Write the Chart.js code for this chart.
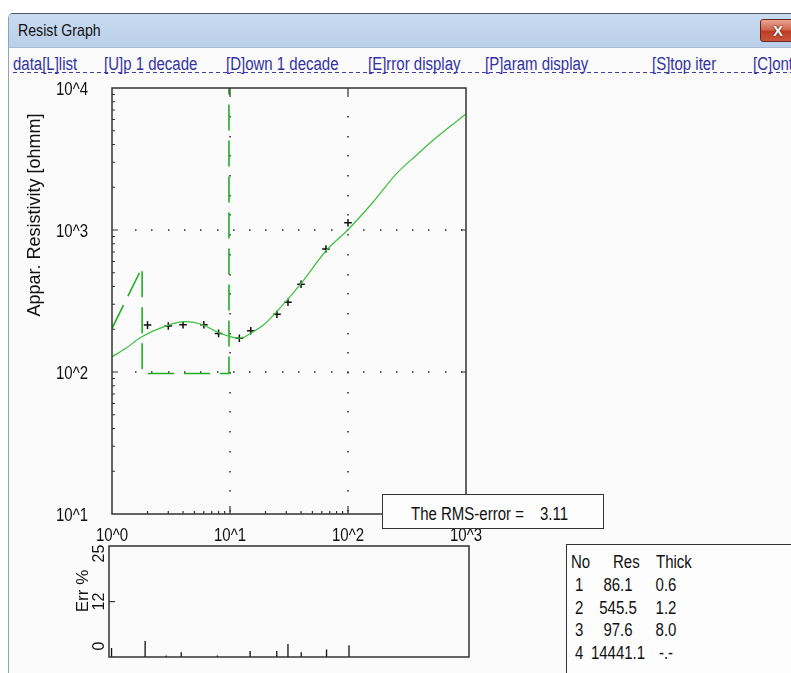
<!DOCTYPE html>
<html>
<head>
<meta charset="utf-8">
<title>Resist Graph</title>
<script src="https://cdn.jsdelivr.net/npm/chart.js@4.4.1/dist/chart.umd.min.js"></script>
<style>
  html, body { margin: 0; padding: 0; }
  body {
    width: 791px; height: 673px; position: relative; overflow: hidden; background: #ffffff;
    font-family: "Liberation Sans", Arial, sans-serif;
  }
  .win { position: absolute; left: 8px; top: 13px; width: 800px; height: 680px; background: #fbfbfb;
         border-left: 1px solid #8fa2b8; border-top: 1px solid #4f5a66; border-top-left-radius: 5px; }
  .titlebar { position: absolute; left: 9px; top: 14px; width: 790px; height: 33px;
              background: linear-gradient(#c9dbf0, #b9cfe9); border-bottom: 1px solid #a6bad2;
              border-top-left-radius: 4px; }
  .close { position: absolute; left: 760px; top: 19px; width: 40px; height: 23px; box-sizing: border-box;
           border: 1px solid #6a261b; border-radius: 3px;
           background: linear-gradient(#e7a592, #d0634b 48%, #bd3c24 52%, #c9563b); }
  .close span { position: absolute; left: 12px; top: 2px; font: bold 15px "Liberation Sans", Arial, sans-serif;
                color: #ffffff; text-shadow: 0 0 2px #5a1a10, 0 0 1px #5a1a10; }
  /* condensed caption text */
  .t { position: absolute; font-size: 18px; line-height: 18px; white-space: pre;
       transform: scaleX(0.833); transform-origin: 0 0; }
  .t.c { width: 80px; text-align: center; transform-origin: 40px 0; }
  .menu .t { top: 55px; color: #3232a2; }
  .menuline { position: absolute; left: 13px; top: 72px; width: 778px; height: 1px;
              background: repeating-linear-gradient(90deg, #3a3aa8 0 4px, transparent 4px 7px); }
  canvas { position: absolute; left: 0; top: 0; z-index: 1; }
  .box { position: absolute; z-index: 2; background: #fdfdfd; border: 1.5px solid #333; box-sizing: border-box; }
  .box .t { color: #111; }
</style>
</head>
<body>
<div class="win"></div>
<div class="titlebar"><span class="t" style="left:9px; top:8px; font-size:17px; color:#101010;">Resist Graph</span></div>
<div class="close"><span>X</span></div>
<div class="menu" id="menu"></div>
<div class="menuline"></div>

<canvas id="main" width="791" height="673"></canvas>
<canvas id="err" width="791" height="673"></canvas>

<div class="box" id="rms" style="left:382px; top:494px; width:222px; height:35px;"></div>
<div class="box" id="layers" style="left:566px; top:544px; width:240px; height:140px;"></div>

<script>
// ---- menu ----
const menuItems = ['data[L]list', '[U]p 1 decade', '[D]own 1 decade', '[E]rror display',
                   '[P]aram display', '[S]top iter', '[C]ont'];
const menuX = [13, 104, 226, 368, 485, 652, 753];

// ---- sounding data: AB/2 [m] vs apparent resistivity [ohmm] ----
const spacingObs = [2, 3, 4, 6, 8, 12, 15, 25, 31, 40, 65, 100];
const rhoObs     = [214, 211, 215, 215, 187, 173, 195, 255, 310, 415, 735, 1125];

// fitted model response
const spacingModel = [1.0, 1.33, 1.73, 2.91, 4.15, 5.94, 7.71, 9.68, 12.2, 15.7, 19.2, 24.9,
                      39.2, 65.9, 99.4, 164, 259, 382, 528, 994];
const rhoModel     = [128, 148, 174, 212, 226, 214, 192, 179, 173, 192, 214, 266,
                      410, 723, 1000, 1581, 2507, 3373, 4305, 6531];

// layered earth parameters
const layerNo    = [1, 2, 3, 4];
const layerRes   = [86.1, 545.5, 97.6, 14441.1];
const layerThick = [0.6, 1.2, 8.0, null];

// relative misfit per station [%]
const errSpacing = [1.05, 2, 3, 4, 8, 15, 25, 31, 40, 65, 100];
const errPct     = [2.4, 4.3, 0.4, 1.3, 0.4, 1.6, 1.6, 3.5, 1.3, 2.0, 3.2];

const rmsError = 3.11;

// axis ticks
const xTickValues = [1, 10, 100, 1000];
const xTickLabels = ['10^0', '10^1', '10^2', '10^3'];
const yTickValues = [10, 100, 1000, 10000];
const yTickLabels = ['10^1', '10^2', '10^3', '10^4'];
const errTickValues = [0, 12, 25];
const errTickLabels = ['0', '12', '25'];

const REGULAR = '"Liberation Sans", Arial, sans-serif';
const SQUEEZE = 0.833;

function addText(parent, text, x, y, cls, extra) {
  const s = document.createElement('span');
  s.className = 't' + (cls ? ' ' + cls : '');
  s.textContent = text;
  if (cls === 'c') s.style.left = (x - 40) + 'px'; else s.style.left = x + 'px';
  if (y !== null) s.style.top = y + 'px';
  if (extra) Object.assign(s.style, extra);
  parent.appendChild(s);
}

// ---- menu bar ----
const menu = document.getElementById('menu');
menuItems.forEach((t, i) => addText(menu, t, menuX[i], null));

// ---- RMS box ----
const rms = document.getElementById('rms');
addText(rms, 'The RMS-error =', 28, 10);
addText(rms, rmsError.toFixed(2), 157, 10);

// ---- layer table ----
const tbl = document.getElementById('layers');
addText(tbl, 'No', 4, 8);
addText(tbl, 'Res', 46, 8);
addText(tbl, 'Thick', 89, 8);
layerNo.forEach((n, i) => {
  const y = 31 + i * 22.5;
  addText(tbl, String(n), 8, y);
  addText(tbl, layerRes[i].toFixed(1), 51, y, 'c');
  addText(tbl, layerThick[i] === null ? '-.-' : layerThick[i].toFixed(1), 99, y, 'c');
});

// ---- layered model step line ----
const depths = [];
layerThick.reduce((acc, t) => { if (t !== null) { acc += t; depths.push(acc); } return acc; }, 0);
const layerLine = [
  { x: depths[0], y: layerRes[0] },
  { x: depths[1], y: layerRes[1] },
  { x: depths[1], y: layerRes[2] },
  { x: depths[2], y: layerRes[2] },
  { x: depths[2], y: layerRes[3] }
];

// condensed canvas text
function squeezedText(ctx, text, x, y, align) {
  ctx.save();
  ctx.translate(x, y);
  ctx.scale(SQUEEZE, 1);
  ctx.textAlign = align;
  ctx.textBaseline = 'middle';
  ctx.fillText(text, 0, 0);
  ctx.restore();
}

// frame, dotted grid, tick marks, tick labels and axis title for the sounding plot
const soundingFrame = {
  id: 'soundingFrame',
  beforeDatasetsDraw(chart) {
    const { ctx, chartArea: a, scales: { x, y } } = chart;
    ctx.save();
    ctx.fillStyle = '#2a2a2a';
    [10, 100].forEach(v => {
      const px = Math.round(x.getPixelForValue(v));
      for (let py = a.top + 28; py < a.bottom - 4; py += 19.7) ctx.fillRect(px - 0.7, Math.round(py), 1.5, 1.5);
    });
    [100, 1000].forEach(v => {
      const py = Math.round(y.getPixelForValue(v));
      for (let px = a.left + 23; px < a.right - 4; px += 16.3) ctx.fillRect(Math.round(px), py - 0.7, 1.5, 1.5);
    });
    ctx.restore();
  },
  afterDatasetsDraw(chart) {
    const { ctx, chartArea: a, scales: { x, y } } = chart;
    ctx.save();
    ctx.strokeStyle = '#333';
    ctx.lineWidth = 1.5;
    ctx.strokeRect(a.left, a.top, a.right - a.left, a.bottom - a.top);
    ctx.lineWidth = 1.2;
    ctx.beginPath();
    [10, 100].forEach(v => {
      const px = x.getPixelForValue(v);
      ctx.moveTo(px, a.bottom); ctx.lineTo(px, a.bottom - 8);
      ctx.moveTo(px, a.top); ctx.lineTo(px, a.top + 9);
    });
    [100, 1000].forEach(v => {
      const py = y.getPixelForValue(v);
      ctx.moveTo(a.left, py); ctx.lineTo(a.left + 6, py);
      ctx.moveTo(a.right, py); ctx.lineTo(a.right - 5, py);
    });
    for (let d = 0; d < 3; d++) for (let k = 2; k <= 9; k++) {
      const px = x.getPixelForValue(k * Math.pow(10, d));
      ctx.moveTo(px, a.bottom); ctx.lineTo(px, a.bottom - 3);
    }
    for (let d = 1; d < 4; d++) for (let k = 2; k <= 9; k++) {
      const py = y.getPixelForValue(k * Math.pow(10, d));
      ctx.moveTo(a.left, py); ctx.lineTo(a.left + 3, py);
    }
    ctx.stroke();

    ctx.fillStyle = '#111';
    ctx.font = '18px ' + REGULAR;
    xTickValues.forEach((v, i) => squeezedText(ctx, xTickLabels[i], x.getPixelForValue(v), a.bottom + 22, 'center'));
    yTickValues.forEach((v, i) => squeezedText(ctx, yTickLabels[i], a.left - 24, y.getPixelForValue(v) + 2, 'right'));

    ctx.translate(a.left - 77, a.top + 127);
    ctx.rotate(-Math.PI / 2);
    ctx.font = '18px ' + REGULAR;
    ctx.textAlign = 'center';
    ctx.textBaseline = 'middle';
    ctx.fillText('Appar. Resistivity [ohmm]', 0, 0);
    ctx.restore();
  }
};

new Chart(document.getElementById('main'), {
  type: 'line',
  data: {
    datasets: [
      { data: spacingModel.map((s, i) => ({ x: s, y: rhoModel[i] })),
        borderColor: '#3cbf3c', borderWidth: 1.2, pointRadius: 0, cubicInterpolationMode: 'monotone' },
      { data: layerLine, borderColor: '#1fae1f', borderWidth: 1.6, borderDash: [26, 10], borderDashOffset: 13,
        pointRadius: 0, tension: 0 },
      { data: spacingObs.map((s, i) => ({ x: s, y: rhoObs[i] })), showLine: false,
        pointStyle: 'cross', pointRadius: 3.8, borderColor: '#111', borderWidth: 1.5 }
    ]
  },
  options: {
    responsive: false, animation: false, events: [],
    layout: { padding: { left: 0, top: 88, right: 325, bottom: 123 } },
    plugins: { legend: { display: false }, tooltip: { enabled: false } },
    scales: {
      x: {
        type: 'logarithmic', min: 1, max: 1000,
        afterFit: s => { s.height = 36; },
        ticks: { display: false },
        grid: { display: false, drawTicks: false }, border: { display: false }
      },
      y: {
        type: 'logarithmic', min: 10, max: 10000,
        afterFit: s => { s.width = 112; },
        ticks: { display: false },
        grid: { display: false, drawTicks: false }, border: { display: false }
      }
    }
  },
  plugins: [soundingFrame]
});

// frame and rotated labels for the misfit plot
const misfitFrame = {
  id: 'misfitFrame',
  afterDatasetsDraw(chart) {
    const { ctx, chartArea: a, scales: { y } } = chart;
    ctx.save();
    ctx.strokeStyle = '#333';
    ctx.lineWidth = 1.5;
    ctx.strokeRect(a.left, a.top, a.right - a.left, a.bottom - a.top);
    const p12 = y.getPixelForValue(12) - 11;
    ctx.lineWidth = 1.2;
    ctx.beginPath(); ctx.moveTo(a.left, p12); ctx.lineTo(a.left + 6, p12); ctx.stroke();
    ctx.fillStyle = '#111';
    ctx.textAlign = 'center';
    ctx.textBaseline = 'middle';
    ctx.font = '16px ' + REGULAR;
    errTickValues.forEach((v, i) => {
      ctx.save();
      ctx.translate(a.left - 9, y.getPixelForValue(v) - 11);
      ctx.rotate(-Math.PI / 2);
      ctx.fillText(errTickLabels[i], 0, 0);
      ctx.restore();
    });
    ctx.font = '17px ' + REGULAR;
    ctx.translate(a.left - 26, a.top + 45);
    ctx.rotate(-Math.PI / 2);
    ctx.fillText('Err %', 0, 0);
    ctx.restore();
  }
};

const errSegments = errSpacing.flatMap((s, i) => [{ x: s, y: 0 }, { x: s, y: errPct[i] }, { x: s, y: null }]);

new Chart(document.getElementById('err'), {
  type: 'line',
  data: { datasets: [{ data: errSegments, borderColor: '#111', borderWidth: 1.3, pointRadius: 0, spanGaps: false }] },
  options: {
    responsive: false, animation: false, events: [],
    layout: { padding: { left: 109, top: 546, right: 322, bottom: 16 } },
    plugins: { legend: { display: false }, tooltip: { enabled: false } },
    scales: {
      x: { type: 'logarithmic', min: 1, max: 1000, display: false },
      y: { type: 'linear', min: 0, max: 30, display: false }
    }
  },
  plugins: [misfitFrame]
});
</script>
</body>
</html>
